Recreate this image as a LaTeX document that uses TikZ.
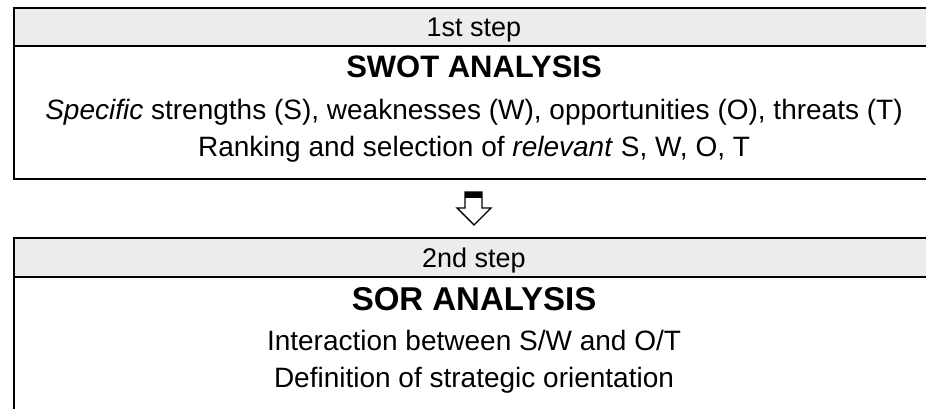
\documentclass[tikz,border=0pt]{standalone}
\usepackage{fontspec}
\setmainfont{Liberation Sans}
\usepackage{tikz}
\usetikzlibrary{positioning}
\definecolor{headgray}{HTML}{ECECEC}
\tikzset{
	frame/.style={draw, line width=1.5pt},
	header/.style={draw, line width=1.5pt, fill=headgray},
	txt/.style={anchor=base, inner sep=0pt},
	small/.style={font=\fontsize{27}{30}\selectfont},
	body/.style={font=\fontsize{28}{32}\selectfont},
}

\begin{document}
\begin{tikzpicture}[x=1pt, y=1pt, thick]
	\useasboundingbox (0,0) rectangle (926,409);

%first box
\draw[frame](14,363) rectangle (934,230);
\draw[header](14,401) rectangle (934,363);
\node[txt, small] (step1) at (474,372) {1st step};
\node[txt, font=\fontsize{31}{34}\bfseries] (swot) at (474,331) {SWOT ANALYSIS};
\node[txt, body] (swotA) at (474,289) {\textit{Specific} strengths (S), weaknesses (W), opportunities (O), threats (T)};
\node[txt, body] (swotB) at (474,252) {Ranking and selection of \textit{relevant} S, W, O, T};

%arrow
\draw[line width=1.4pt, line join=miter, fill=white](465,217)--(465,201)--(457,201)--(474,184)--(491,201)--(482,201)--(482,217)--cycle;
\fill(465,217) rectangle (482,211);

%second box
\draw[frame](14,132) rectangle (934,-10);
\draw[header](14,171) rectangle (934,132);
\node[txt, small] (step2) at (474,141) {2nd step};
\node[txt, font=\fontsize{33}{36}\bfseries] (sor) at (474,98) {SOR ANALYSIS};
\node[txt, body] (sorA) at (474,58) {Interaction between S/W and O/T};
\node[txt, body] (sorB) at (474,21) {Definition of strategic orientation};

\end{tikzpicture}
\end{document}
